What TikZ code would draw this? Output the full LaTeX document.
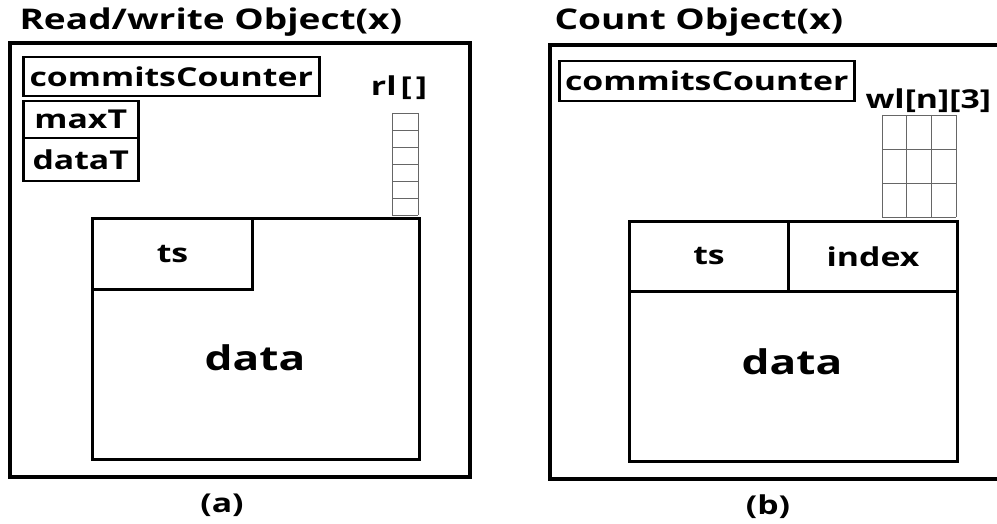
\documentclass[tikz,border=0pt]{standalone}
\usepackage{fontspec}
\setmainfont{Open Sans}[FakeStretch=1.3]
\usetikzlibrary{positioning}

\begin{document}
\begin{tikzpicture}[x=1pt,y=-1pt,
    every node/.style={font=\bfseries},
    title/.style={anchor=base west,font=\bfseries\fontsize{28.5}{32}\selectfont},
    objbox/.style={draw,line width=4pt,anchor=north west,inner sep=0pt},
    field/.style={draw,line width=2.5pt,anchor=north west,inner sep=0pt,
        font=\bfseries\fontsize{26}{30}\selectfont},
    slot/.style={draw,line width=3pt,anchor=north west,inner sep=0pt,
        font=\bfseries\fontsize{26}{30}\selectfont},
    biglabel/.style={font=\bfseries\fontsize{34}{40}\selectfont},
    caption/.style={font=\bfseries\fontsize{26}{30}\selectfont},
    cell/.style={draw=gray!80!black,line width=0.8pt}]
    \useasboundingbox (0,0) rectangle (997,524);
    \clip (0,0) rectangle (997,524);

    % (a) read/write object
    \node[title] (titleA) at (16,30) {Read/write Object(x)};
    \node[objbox,minimum width=460pt,minimum height=434pt] (objA) at (8,41) {};
    \node[field,minimum width=296pt,minimum height=39pt] (commitsA) at (22,56) {commitsCounter};
    \node[field,minimum width=115pt,minimum height=37pt] (maxT) at (22,100) {maxT};
    \node[field,minimum width=115pt,minimum height=43pt] (dataT) at (22,137) {dataT};
    \node[caption] (rlLabel) at (399,88) {rl\hspace{4pt}[\hspace{4pt}]};
    \foreach \i in {0,...,6}
        \draw[cell] (392,113+17*\i) -- (418,113+17*\i);
    \draw[cell] (392,113) -- (392,215);
    \draw[cell] (418,113) -- (418,215);
    \node[slot,minimum width=327pt,minimum height=241pt] (boxA) at (91,217) {};
    \node[slot,minimum width=160pt,minimum height=71pt] (tsA) at (91,217) {ts};
    \node[biglabel] (dataA) at (255,358) {data};
    \node[caption] (capA) at (222,505) {(a)};

    % (b) count object
    \node[title] (titleB) at (551,30) {Count Object(x)};
    \node[objbox,minimum width=470pt,minimum height=434pt] (objB) at (548,43) {};
    \node[field,minimum width=295pt,minimum height=40pt] (commitsB) at (558,60) {commitsCounter};
    \node[caption,anchor=west] (wlLabel) at (862,101) {wl[n][3]};
    \foreach \i in {0,...,3} {
        \draw[cell] (882,115+34*\i) -- (956,115+34*\i);
        \draw[cell] (882+24.7*\i,115) -- (882+24.7*\i,217);
    }
    \node[slot,minimum width=328pt,minimum height=240pt] (boxB) at (628,220) {};
    \node[slot,minimum width=159pt,minimum height=70pt] (tsB) at (628,220) {ts};
    \node[slot,minimum width=169pt,minimum height=70pt] (indexB) at (787,220) {index};
    \node[biglabel] (dataB) at (792,362) {data};
    \node[caption] (capB) at (768,507) {(b)};
\end{tikzpicture}
\end{document}
